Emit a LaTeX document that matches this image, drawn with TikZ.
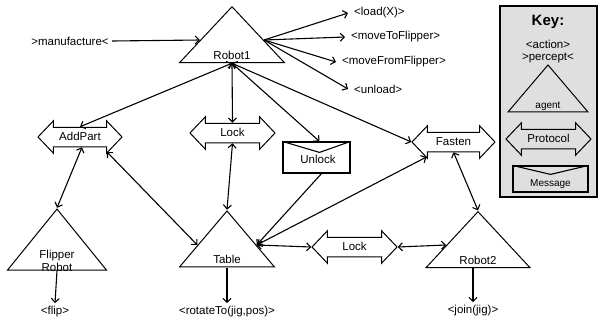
\documentclass[tikz,border=0pt]{standalone}
\usepackage{fontspec}
\setmainfont{Liberation Sans}
\usetikzlibrary{shapes.geometric,shapes.arrows,arrows.meta}

\begin{document}
\begin{tikzpicture}[
    x=1pt, y=-1pt,
    font=\fontsize{11.5}{13.5}\selectfont,
    >={Straight Barb[length=4pt,width=8pt]},
    % Define a style for the agents (triangles)
    agent/.style={isosceles triangle, isosceles triangle stretches, shape border rotate=90,
        draw=black, line width=1pt, inner sep=0pt},
    % Define a style for the protocols (double arrows)
    protocol/.style={double arrow, draw=black, line width=1pt, double arrow head extend=6.5pt,
        double arrow tip angle=93, minimum height=84pt, inner xsep=2pt, inner ysep=4.25pt,
        text height=8pt, text depth=2pt},
    % Define a style for the messages (envelopes)
    message/.style={rectangle, draw=black, line width=1.2pt, inner sep=0pt},
    flap/.style={line width=1.1pt},
    link/.style={line width=1.1pt},
    act/.style={anchor=west, inner xsep=6pt}
]

    \useasboundingbox (0,0) rectangle (598,322);

    % The key
    \node[draw=black, line width=2pt, fill=gray!25, minimum width=97pt, minimum height=191pt] (key) at (548.5,101) {};
    \node[font=\bfseries\fontsize{15}{17}\selectfont] (keytitle) at (548,22) {Key:};
    \node (keyaction) at (548,44) {<action>};
    \node (keypercept) at (548,58) {>percept<};
    \node[agent, fill=gray!25, minimum width=80pt, minimum height=47pt] (keyagent) at (548,93.5) {};
    \node[font=\fontsize{10}{12}\selectfont] (keyagenttxt) at (548,106) {agent};
    \node[protocol, fill=gray!25, minimum height=85pt] (keyproto) at (548.5,139) {Protocol};
    \node[message, fill=gray!25, minimum width=75pt, minimum height=26pt] (keymsg) at (550.5,179) {};
    \draw[flap] (keymsg.north west) -- ([shift={(0,9)}]keymsg.north) -- (keymsg.north east);
    \node[font=\fontsize{10}{12}\selectfont] (keymsgtxt) at (550.5,184) {Message};

    % Agents
    \node[agent, minimum width=105pt, minimum height=56pt] (robot1) at (232,40) {};
    \node (robot1txt) at (232,55) {Robot1};
    \node[agent, minimum width=99pt, minimum height=61pt] (flipper) at (57,246.5) {};
    \node[align=center] (flippertxt) at (57,261) {Flipper\\Robot};
    \node[agent, minimum width=95pt, minimum height=56pt] (table) at (227,245) {};
    \node (tabletxt) at (227,259) {Table};
    \node[agent, minimum width=104pt, minimum height=56pt] (robot2) at (478,245) {};
    \node (robot2txt) at (478,260) {Robot2};

    % Protocols and messages
    \node[protocol] (addpart) at (80,137) {AddPart};
    \node[protocol, minimum height=85pt] (lockA) at (232.5,133) {Lock};
    \node[protocol, minimum height=83pt] (fasten) at (453.5,142) {Fasten};
    \node[protocol, minimum height=85pt] (lockB) at (354.5,247) {Lock};
    \node[message, minimum width=67pt, minimum height=31pt] (unlock) at (316.5,157.5) {};
    \draw[flap] (unlock.north west) -- ([shift={(3,11)}]unlock.north) -- (unlock.north east);
    \node (unlocktxt) at (318,159) {Unlock};

    % Percepts and actions
    \node (manuf) at (70,41) {>manufacture<};
    \draw[link,->] (manuf.east) -- (robot1.west);
    \foreach \name/\x/\y/\txt in {load/348/13/<load(X)>, moveto/345/37/<moveToFlipper>,
        movefrom/336/62/<moveFromFlipper>, unload/348/89/<unload>} {
        \node[act] (\name) at (\x,\y) {\txt};
        \draw[link,->] (robot1.east) -- (\name.west);
    }
    \node (flip) at (55,312) {<flip>};
    \node (rotate) at (227,312) {<rotateTo(jig,pos)>};
    \node (join) at (473,311) {<join(jig)>};
    \draw[link,->] (flipper.south) -- (flip.north);
    \draw[link,->] (table.south) -- (rotate.north);
    \draw[link,->] (join.north |- robot2.south) -- (join.north);

    % Connections
    \draw[link,<->] (robot1.south) -- (addpart.north);
    \draw[link,<->] (robot1.south) -- (lockA.north);
    \draw[link,->] (robot1.south) -- ([xshift=3pt]unlock.north);
    \draw[link,<->] (robot1.south) -- (fasten.west);
    \draw[link,<->] ([xshift=2pt]addpart.south) -- (flipper.apex);
    \draw[link,<->] ([shift={(27,15)}]addpart.center) -- (table.west);
    \draw[link,<->] (lockA.south) -- (table.apex);
    \draw[link,->] ([xshift=5pt]unlock.south) -- (table.east);
    \draw[link,<->] (table.east) -- ([shift={(-27,15)}]fasten.center);
    \draw[link,<->] (table.east) -- (lockB.west);
    \draw[link,<->] (lockB.east) -- (robot2.west);
    \draw[link,<->] (fasten.south) -- (robot2.apex);

\end{tikzpicture}
\end{document}
